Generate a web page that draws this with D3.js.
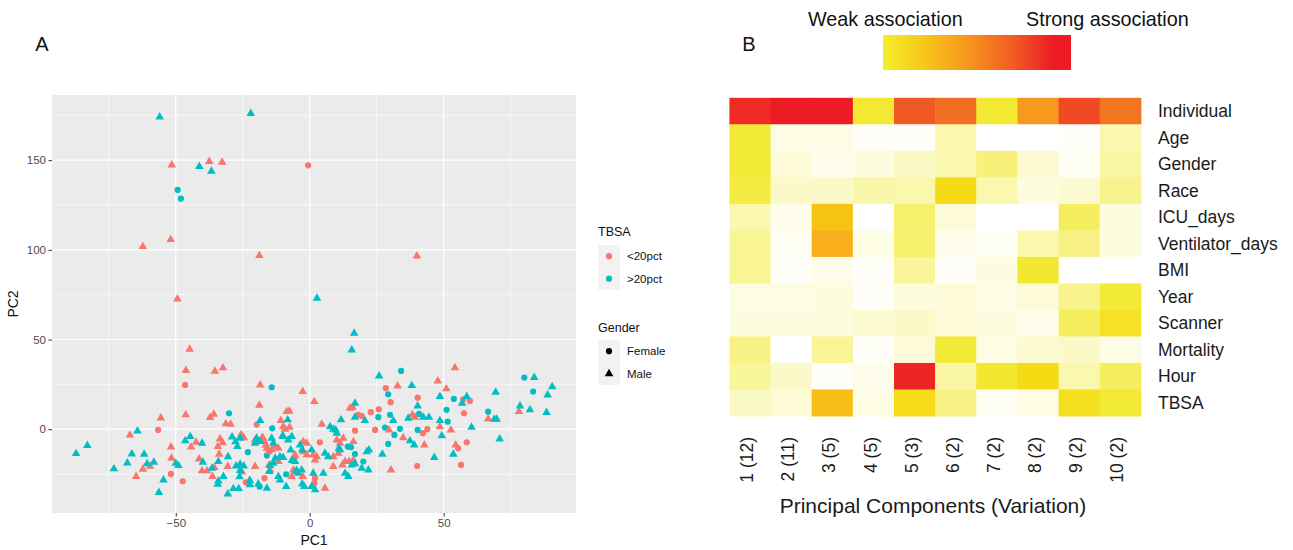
<!DOCTYPE html>
<html><head><meta charset="utf-8">
<script src="https://cdn.jsdelivr.net/npm/d3@7"></script>
<style>
body{margin:0;background:#fff}
svg{display:block}
text{font-family:"Liberation Sans",Arial,Helvetica,sans-serif}
</style>
</head><body>
<svg id="c" width="1293" height="550"></svg>
<script>
// ---------- Panel A data: PCA scores [PC1, PC2] ----------
// TBSA <20pct, Female (circle)
const lowFemale = [[-0.6,147.1],[-46.5,24.7],[-56.6,-0.4],[-51.8,-24.9],[-47.4,-29],[-23.9,-29.6],[-19.8,2.6],[18.1,8],[19.4,7.4],[22.8,9.5],[25.8,11.1],[16.9,-0.8],[3.8,-7.3],[2,-27.3],[1.7,-30.1],[-16.9,-27.3],[28.4,22.9],[30.2,15.1],[40.3,17.6],[57.3,16.7],[59.8,15.8],[57.6,8.9],[58.6,-7.3],[55.4,-10.6],[56.5,-19.9],[40.1,-20.5],[24.4,-0.4],[42.2,-2.2],[43.9,0]];
// TBSA <20pct, Male (triangle)
const lowMale = [[-51.5,147.3],[-37.5,149.2],[-32.7,148.8],[-62.3,101.8],[-51.9,105.7],[-18.8,96.8],[-49.4,72.6],[40,96.6],
[-44.8,44.6],[-46.2,32.7],[-35.4,32.3],[-32.4,34.2],[-46.3,8],[-55.6,6.3],[-37.2,6.5],[-35.8,8.4],[-67.1,-3.3],[-64.8,-26.4],[-62.3,-22.3],[-59.6,-20.6],[-51.8,-9.9],[-51.6,-16.2],[-44.3,-9.9],[-42.4,-7.3],[-41.3,-16.6],[-40.2,-23.2],[-38.3,-23.2],[-35.6,-21.4],[-36.3,-26.4],[-33.5,-5.4],[-34.3,-9.7],[-33.8,-13.9],[-32.5,-7.5],[-31.3,3],[-29.5,2.8],[-25.6,-3],[-24.6,-4.8],[-25.3,-23.8],[-22.5,-28.6],[-30.6,-20.8],
[-18.5,24.7],[-2.6,21],[1.7,15.4],[-18.8,13.4],[-8.6,9.8],[-7.6,10.2],[-10.8,4.8],[-9.9,1.4],[-9.2,0],[-7.5,1.1],[4.5,2.8],[15,11.7],[16,12.3],[16.3,-6.9],[10.1,-6],[11.3,-7.8],[-2.4,-6.9],[-1.1,-7.8],[-5.5,-14.3],[-5.7,-15.3],[-2.4,-12.5],[-1.1,-14.3],[1.3,-14.3],[2.6,-15.3],[2,-17.1],[8.8,-15.3],[10.7,-13.4],[13.2,-18],[14.7,-18],[16.3,-17.1],[8.8,-20.8],[5.7,-32.9],[-6.1,-22.7],[-6.7,-26.4],[-2.6,-26.4],[-11.7,-18],[-15.1,-19.9],[-14.8,-22.7],[-20.4,-20.8],[-20.4,-6],[-17.9,-5],[-16.9,-6.9],[-16.4,-8.8],[-16,-10.6],[-15.4,-12.5],[-14.2,-11.5],[-12.9,-9.7],[-11.7,-10.6],[12.5,-5],[12.2,-19.9],[-17.5,-4.7],
[32.8,24.1],[54.2,34.3],[47.8,26.9],[51,22.5],[38.3,8],[39.3,6.7],[48.6,1.4],[52.7,-0.4],[54.5,-8.8],[30.3,-22.7],[29.6,-0.4],[34.9,-4.7],[42.8,-8.8],[66.6,5.7],[78.1,9.8]];
// TBSA >20pct, Female (circle)
const highFemale = [[-49.3,133.4],[-48.1,128.5],[-30.1,8.9],[-23.1,-12.8],[-14.2,23.4],[-14,0.5],[14.2,-9.7],[15.4,-10],[20,-18],[-8.8,-25.1],[-16,-14.7],[16.9,-13.8],[-18.7,-32],[34.1,32.5],[29.3,19.5],[25.6,6.7],[30,8],[40.8,8.5],[53.8,16.9],[51.1,10.8],[51.5,4.2],[29.3,-8.2],[28.1,0.9],[33.7,0.2],[31.6,-3.2],[40.3,-0.4],[66.6,9.8],[80.1,28.8],[83.4,21]];
// TBSA >20pct, Male (triangle)
const highMale = [[-56,174],[-22,176],[-41.2,146.4],[-36.7,143.8],[2.7,73],[16.6,53.5],[15.7,44.2],
[-83,-9.1],[-87.2,-13.6],[-73.1,-22.1],[-68.1,-18.8],[-66.4,-13.8],[-61.8,-13.9],[-64.3,-1],[-60.7,-19.2],[-58.2,-18.4],[-56.3,-35.3],[-54.6,-28.3],[-50,-19],[-49,-20.3],[-46.5,-6.5],[-44.6,-4.1],[-40.2,-7.8],[-39.9,-18.4],[-36.5,-21.8],[-34.3,-30.7],[-34.1,-28.9],[-30.5,-15.3],[-29,-4.3],[-27.7,-7],[-26,-5],[-27,-9.7],[-27.5,-20.5],[-26,-19.5],[-24.6,-20.5],[-26.2,-26.5],[-26,-23],[-32.2,-26.4],[-30.6,-36.1],[-28.5,-33.1],[-26.5,-33.1],[-34.1,-18],
[-18.5,4.8],[-8.2,5.2],[7.6,1.4],[9.7,-0.4],[11.7,5.2],[16.9,14.5],[16.9,6.7],[20.6,4.8],[11.3,-11.5],[-6.7,-4.1],[-8,-6],[-3.6,-8.8],[-2.8,-11.5],[0.7,-11.5],[5.7,-13.4],[6.9,-15.3],[15.7,-19.9],[16.9,-19.3],[21.3,-12.5],[22.1,-11.5],[21.9,-22.7],[19.4,-21.7],[13.2,-24.5],[14.4,-26.4],[5.1,-24.5],[1.3,-24.5],[2,-33.8],[0.7,-32],[-2,-32],[-2.8,-30.5],[-5.1,-23.6],[-4.3,-24.5],[-3,-22.7],[-5.5,-18],[-6.7,-17.5],[-8.8,-32],[-11.1,-28.3],[-11.7,-26.4],[-13.6,-19],[-12.9,-16.2],[-11.1,-15.3],[-9.9,-15.8],[-16,-32.9],[-19.2,-30.5],[-22.3,-28.7],[-22.3,-31],[-19.8,-5],[-18.5,-6.9],[-20.4,-7.8],[-14.2,-5],[-13.6,-7.8],[-9.9,-4.1],[10.1,-2.2],[8.8,0],[10.9,-10.6],[-15.1,-23.6],[-14.8,-20.3],[-10.1,-3.7],[-7.1,-11.6],[-4.9,-23],
[25.9,29.7],[38.1,24.3],[40.3,13],[36.8,6.1],[42.4,6.7],[44.5,6.7],[48.6,18.2],[56.9,14.5],[58.6,18.2],[48.6,4.8],[31.2,4.8],[49.3,-3.6],[60.4,1.1],[53.6,-13.9],[46.5,-15.8],[27.1,-13.9],[37.4,-6.5],[39,-8.8],[69.4,20.6],[68.9,5.6],[69.8,5.6],[70.9,-5.4],[83.8,28.8],[90.5,23.7],[88.8,19.1],[78.5,13],[82.2,10.8],[88.4,9.3]];

const pc1Major = [-50, 0, 50];
const pc1Minor = [-75, -25, 25, 75];
const pc2Major = [0, 50, 100, 150];
const pc2Minor = [-25, 25, 75, 125, 175];
const tbsaLevels = ["<20pct", ">20pct"];
const genderLevels = ["Female", "Male"];

// ---------- Panel B data: association strength (0 weak .. 1 strong) ----------
const variables = ["Individual","Age","Gender","Race","ICU_days","Ventilator_days","BMI","Year","Scanner","Mortality","Hour","TBSA"];
const components = ["1 (12)","2 (11)","3 (5)","4 (5)","5 (3)","6 (2)","7 (2)","8 (2)","9 (2)","10 (2)"];
const assocIndividual = [0.96,1.00,1.00,0.31,0.84,0.78,0.31,0.66,0.88,0.76];
const assocAge        = [0.30,0.04,0.04,0.01,0.01,0.12,0.00,0.00,0.01,0.12];
const assocGender     = [0.30,0.06,0.03,0.05,0.09,0.12,0.20,0.07,0.02,0.14];
const assocRace       = [0.28,0.08,0.08,0.13,0.12,0.42,0.12,0.05,0.07,0.17];
const assocICU        = [0.12,0.03,0.52,0.00,0.22,0.06,0.00,0.00,0.24,0.05];
const assocVent       = [0.16,0.02,0.60,0.04,0.22,0.03,0.02,0.12,0.18,0.05];
const assocBMI        = [0.16,0.01,0.03,0.01,0.15,0.01,0.05,0.32,0.00,0.00];
const assocYear       = [0.04,0.04,0.05,0.01,0.05,0.06,0.04,0.06,0.17,0.30];
const assocScanner    = [0.05,0.05,0.05,0.07,0.08,0.06,0.05,0.03,0.24,0.36];
const assocMortality  = [0.18,0.00,0.16,0.01,0.06,0.30,0.04,0.07,0.08,0.04];
const assocHour       = [0.15,0.08,0.01,0.03,0.98,0.14,0.32,0.42,0.12,0.24];
const assocTBSA       = [0.09,0.06,0.55,0.04,0.40,0.18,0.02,0.04,0.38,0.30];
const assocRows = [assocIndividual,assocAge,assocGender,assocRace,assocICU,assocVent,assocBMI,assocYear,assocScanner,assocMortality,assocHour,assocTBSA];
const legendLabels = ["Weak association", "Strong association"];

// ---------- drawing ----------
const svg = d3.select("#c");
const font = '"Liberation Sans",Arial,Helvetica,sans-serif';

// Panel labels
svg.append("text").attr("x", 42).attr("y", 51).attr("text-anchor","middle").attr("font-size", 20).attr("fill","#111").text("A");
svg.append("text").attr("x", 749).attr("y", 51).attr("text-anchor","middle").attr("font-size", 20).attr("fill","#111").text("B");

// ===== Panel A =====
const pA = {l: 52, r: 576, t: 95, b: 513};
const x = d3.scaleLinear().domain([-96.2, 99.4]).range([pA.l, pA.r]);
const y = d3.scaleLinear().domain([-46.7, 186.3]).range([pA.b, pA.t]);
const gA = svg.append("g");
gA.append("rect").attr("x", pA.l).attr("y", pA.t).attr("width", pA.r - pA.l).attr("height", pA.b - pA.t).attr("fill", "#EBEBEB");
gA.selectAll(".vmin").data(pc1Minor).join("line").attr("x1", d => x(d)).attr("x2", d => x(d)).attr("y1", pA.t).attr("y2", pA.b).attr("stroke", "#fff").attr("stroke-width", 0.6);
gA.selectAll(".hmin").data(pc2Minor).join("line").attr("y1", d => y(d)).attr("y2", d => y(d)).attr("x1", pA.l).attr("x2", pA.r).attr("stroke", "#fff").attr("stroke-width", 0.6);
gA.selectAll(".vmaj").data(pc1Major).join("line").attr("x1", d => x(d)).attr("x2", d => x(d)).attr("y1", pA.t).attr("y2", pA.b).attr("stroke", "#fff").attr("stroke-width", 1.2);
gA.selectAll(".hmaj").data(pc2Major).join("line").attr("y1", d => y(d)).attr("y2", d => y(d)).attr("x1", pA.l).attr("x2", pA.r).attr("stroke", "#fff").attr("stroke-width", 1.2);

const color = d3.scaleOrdinal().domain(tbsaLevels).range(["#F8766D", "#00BFC4"]);
const tri = d3.symbol().type(d3.symbolTriangle).size(32);
const pts = [];
lowFemale.forEach(p => pts.push({pc1:p[0], pc2:p[1], t:tbsaLevels[0], g:genderLevels[0]}));
lowMale.forEach(p => pts.push({pc1:p[0], pc2:p[1], t:tbsaLevels[0], g:genderLevels[1]}));
highFemale.forEach(p => pts.push({pc1:p[0], pc2:p[1], t:tbsaLevels[1], g:genderLevels[0]}));
highMale.forEach(p => pts.push({pc1:p[0], pc2:p[1], t:tbsaLevels[1], g:genderLevels[1]}));
const gp = gA.append("g");
gp.selectAll("circle").data(pts.filter(d => d.g === "Female")).join("circle")
  .attr("cx", d => x(d.pc1)).attr("cy", d => y(d.pc2)).attr("r", 3.1).attr("fill", d => color(d.t));
gp.selectAll("path").data(pts.filter(d => d.g === "Male")).join("path")
  .attr("d", tri).attr("transform", d => `translate(${x(d.pc1)},${y(d.pc2)})`).attr("fill", d => color(d.t));

// axes
const xAxis = gA.append("g").attr("transform", `translate(0,${pA.b})`)
  .call(d3.axisBottom(x).tickValues(pc1Major).tickSize(3.5).tickPadding(2.5));
const yAxis = gA.append("g").attr("transform", `translate(${pA.l},0)`)
  .call(d3.axisLeft(y).tickValues(pc2Major).tickSize(3.5).tickPadding(2.5));
[xAxis, yAxis].forEach(a => {
  a.select(".domain").remove();
  a.selectAll(".tick line").attr("stroke", "#333").attr("stroke-width", 1);
  a.selectAll(".tick text").attr("fill", "#4D4D4D").attr("font-size", 11.5).attr("font-family", font);
});
gA.append("text").attr("x", (pA.l + pA.r) / 2).attr("y", 545).attr("text-anchor", "middle").attr("font-size", 14).attr("fill", "#111").text("PC1");
gA.append("text").attr("transform", `translate(18,${(pA.t + pA.b) / 2}) rotate(-90)`).attr("text-anchor", "middle").attr("font-size", 14).attr("fill", "#111").text("PC2");

// legends
const lg = gA.append("g");
lg.append("text").attr("x", 598).attr("y", 236).attr("font-size", 12.5).attr("fill", "#111").text("TBSA");
lg.selectAll(".k1").data(tbsaLevels).join("rect").attr("x", 598).attr("y", (d, i) => 245 + i * 22.5).attr("width", 22).attr("height", 22.5).attr("fill", "#F2F2F2");
lg.selectAll(".c1").data(tbsaLevels).join("circle").attr("cx", 609).attr("cy", (d, i) => 256.2 + i * 22.5).attr("r", 3.1).attr("fill", d => color(d));
lg.selectAll(".t1").data(tbsaLevels).join("text").attr("x", 627).attr("y", (d, i) => 256.2 + i * 22.5).attr("dy", "0.35em").attr("font-size", 11.5).attr("fill", "#111").text(d => d);
lg.append("text").attr("x", 598).attr("y", 331.5).attr("font-size", 12.5).attr("fill", "#111").text("Gender");
lg.selectAll(".k2").data(genderLevels).join("rect").attr("x", 598).attr("y", (d, i) => 340 + i * 22.5).attr("width", 22).attr("height", 22.5).attr("fill", "#F2F2F2");
lg.append("circle").attr("cx", 609).attr("cy", 351.2).attr("r", 3.1).attr("fill", "#000");
lg.append("path").attr("d", tri).attr("transform", "translate(609,373.7)").attr("fill", "#000");
lg.selectAll(".t2").data(genderLevels).join("text").attr("x", 627).attr("y", (d, i) => 351.2 + i * 22.5).attr("dy", "0.35em").attr("font-size", 11.5).attr("fill", "#111").text(d => d);

// ===== Panel B =====
const hx = d3.scaleBand().domain(components).range([729.4, 1140.9]);
const hy = d3.scaleBand().domain(variables).range([97.8, 416]);
const heatColor = d3.scaleLinear()
  .domain([0, 0.3, 0.45, 0.6, 0.8, 1])
  .range(["#FFFFFF", "#F3EA36", "#F7D70C", "#F9AE1B", "#F06823", "#ED1C24"])
  .clamp(true);
const cells = [];
assocRows.forEach((row, i) => row.forEach((v, j) => cells.push({r: variables[i], c: components[j], v})));
const gB = svg.append("g");
gB.selectAll("rect").data(cells).join("rect")
  .attr("x", d => hx(d.c)).attr("y", d => hy(d.r)).attr("width", hx.bandwidth() + 0.5).attr("height", hy.bandwidth() + 0.5)
  .attr("fill", d => heatColor(d.v));
gB.selectAll(".rl").data(variables).join("text").attr("x", 1158).attr("y", d => hy(d) + hy.bandwidth() / 2).attr("dy", "0.35em")
  .attr("font-size", 17.5).attr("fill", "#1a1a1a").text(d => d);
gB.selectAll(".cl").data(components).join("text")
  .attr("transform", d => `translate(${hx(d) + hx.bandwidth() / 2 - 3},437) rotate(-90)`)
  .attr("text-anchor", "end").attr("dy", "0.35em").attr("font-size", 17.5).attr("fill", "#1a1a1a").text(d => d);
gB.append("text").attr("x", 933).attr("y", 513).attr("text-anchor", "middle").attr("font-size", 21).attr("fill", "#1a1a1a").text("Principal Components (Variation)");

// colour legend
const defs = svg.append("defs");
const grad = defs.append("linearGradient").attr("id", "lg");
const legendStops = [["0%", "#F5EE2A"], ["20%", "#F8CB1A"], ["45%", "#F7961E"], ["70%", "#F15A24"], ["90%", "#ED1C24"], ["100%", "#ED1C24"]];
legendStops.forEach(s => grad.append("stop").attr("offset", s[0]).attr("stop-color", s[1]));
const barX = d3.scaleLinear().domain([0, 1]).range([883, 1071]);
svg.append("rect").attr("x", barX(0)).attr("y", 35).attr("width", barX(1) - barX(0)).attr("height", 35).attr("fill", "url(#lg)");
svg.append("text").attr("x", 808).attr("y", 26).attr("font-size", 19.8).attr("fill", "#111").text(legendLabels[0]);
svg.append("text").attr("x", 1026).attr("y", 26).attr("font-size", 19.8).attr("fill", "#111").text(legendLabels[1]);
</script>
</body></html>
